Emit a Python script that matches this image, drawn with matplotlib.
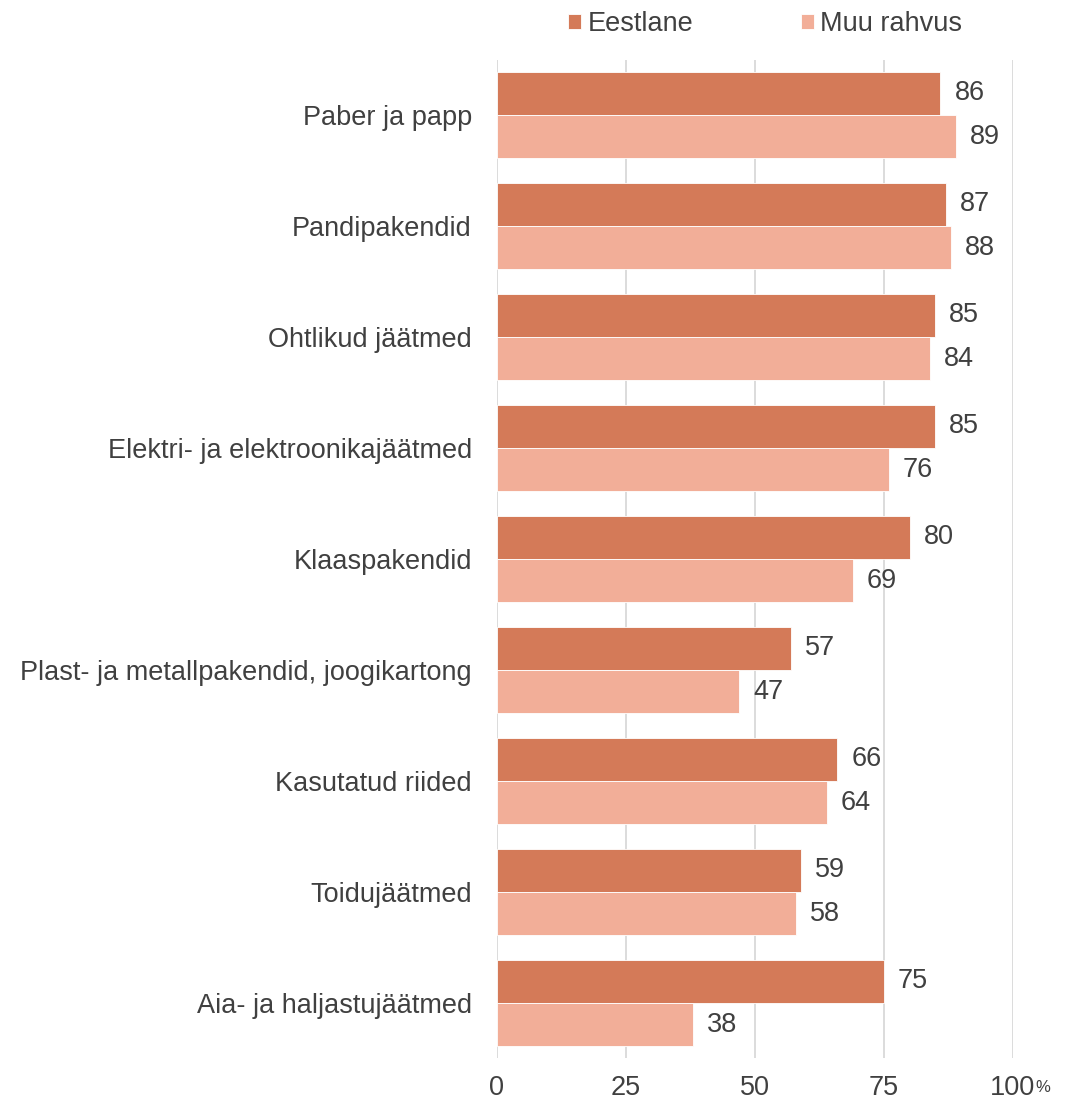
import numpy as np
import matplotlib.pyplot as plt

categories = ["Paber ja papp", "Pandipakendid", "Ohtlikud jäätmed",
              "Elektri- ja elektroonikajäätmed", "Klaaspakendid",
              "Plast- ja metallpakendid, joogikartong", "Kasutatud riided",
              "Toidujäätmed", "Aia- ja haljastujäätmed"]
eestlane = [86, 87, 85, 85, 80, 57, 66, 59, 75]
muu_rahvus = [89, 88, 84, 76, 69, 47, 64, 58, 38]
xticks = [0, 25, 50, 75, 100]
xticklabels = ["0", "25", "50", "75", "100"]

c_est = "#D47A58"
c_muu = "#F2AE98"
txt = "#404040"
fs = 19.5

plt.rcParams['font.family'] = ['Liberation Sans', 'DejaVu Sans']

fig = plt.figure(figsize=(10.66, 11.02), dpi=100)
ax = fig.add_axes([0.466, 0.0395, 0.484, 0.9065])

y = np.arange(len(categories))
h = 0.39
b1 = ax.barh(y - h / 2, eestlane, height=h, color=c_est, edgecolor="white", linewidth=0.6, label="Eestlane", zorder=2)
b2 = ax.barh(y + h / 2, muu_rahvus, height=h, color=c_muu, edgecolor="white", linewidth=0.6, label="Muu rahvus", zorder=2)

# value labels just right of each bar
for bars, vals in ((b1, eestlane), (b2, muu_rahvus)):
    for bar, v in zip(bars, vals):
        ax.text(v + 2.7, bar.get_y() + bar.get_height() / 2, str(v), va="center", ha="left",
                fontsize=fs, color=txt)

ax.set_xlim(0, 100)
ax.set_ylim(len(categories) - 0.5, -0.5)
ax.set_yticks(y)
ax.set_yticklabels(categories, fontsize=fs, color=txt)
ax.set_xticks(xticks)
ax.set_xticklabels(xticklabels, fontsize=fs, color=txt)
ax.tick_params(axis="both", length=0)
ax.tick_params(axis="y", pad=18)
ax.tick_params(axis="x", pad=12)
ax.grid(axis="x", color="#D9D9D9", linewidth=1.3, zorder=0)
for s in ax.spines.values():
    s.set_visible(False)

fig.text(0.9715, 0.009, "%", fontsize=12, color=txt, ha="left", va="baseline")

fig.legend(handles=[b1, b2], loc="upper center", bbox_to_anchor=(0.718, 1.012), ncol=2,
           frameon=False, fontsize=fs, labelcolor=txt, handlelength=0.45, handleheight=0.45,
           handletextpad=0.25, columnspacing=4.0)

fig.savefig("out.png", dpi=100)
